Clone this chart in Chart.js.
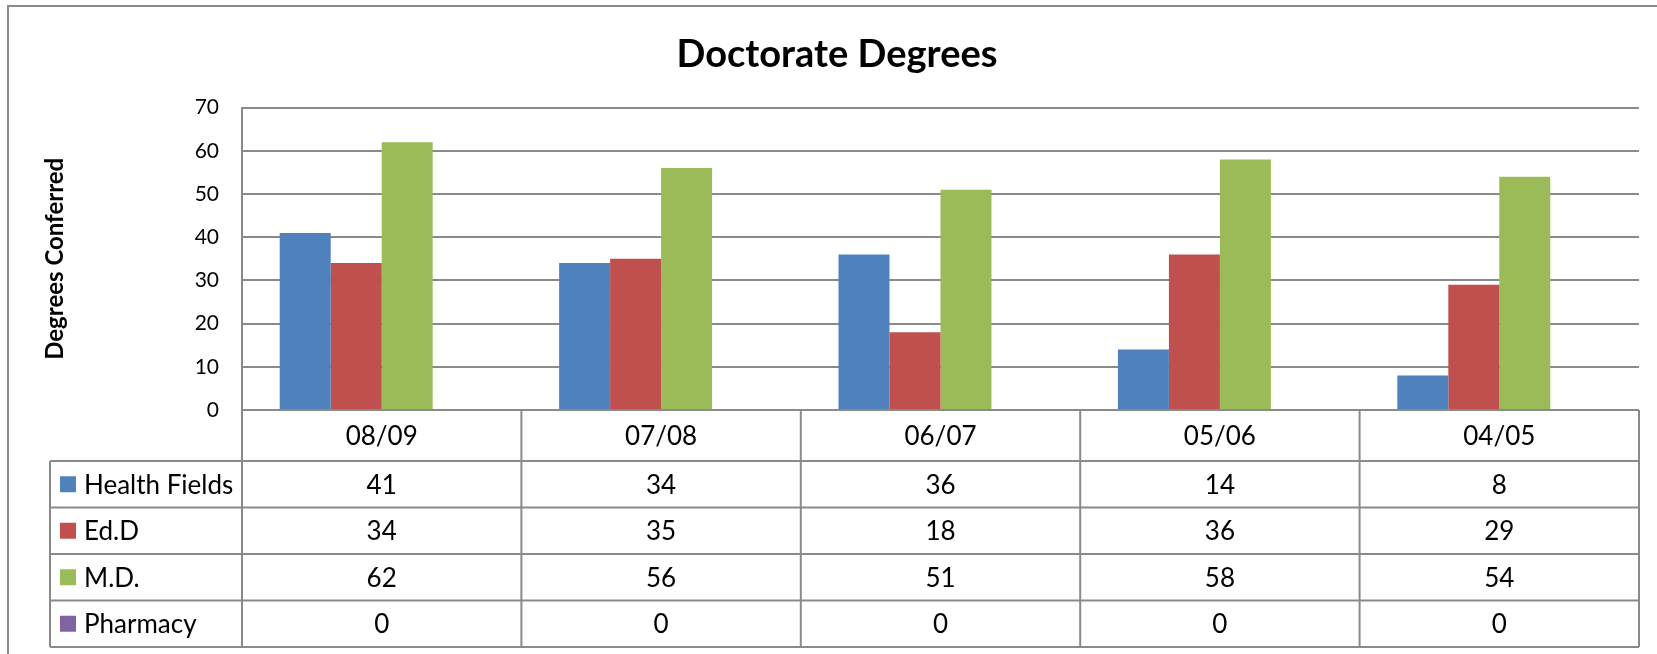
<!DOCTYPE html>
<html>
<head>
<meta charset="utf-8">
<title>Doctorate Degrees</title>
<script src="https://cdn.jsdelivr.net/npm/chart.js@4.4.0/dist/chart.umd.min.js"></script>
<style>
  body { margin: 0; background: #ffffff; }
  canvas { display: block; }
</style>
</head>
<body>
<canvas id="myChart" width="1657" height="654"></canvas>
<script>
// chart values
let years = ["08/09", "07/08", "06/07", "05/06", "04/05"];
let healthFields = [41, 34, 36, 14, 8];
let edD = [34, 35, 18, 36, 29];
let md = [62, 56, 51, 58, 54];
let pharmacy = [0, 0, 0, 0, 0];
let yTicks = [0, 10, 20, 30, 40, 50, 60, 70];

let seriesNames = ["Health Fields", "Ed.D", "M.D.", "Pharmacy"];
let seriesColors = ["#4F81BD", "#C0504D", "#9BBB59", "#8064A2"];
let seriesData = [healthFields, edD, md, pharmacy];

let lineColor = "#8a8a8a";
let fontName = "Lato";

// draws the outer frame of the chart
const frameLines = {
    id: "frameLines",
    beforeDraw(chart) {
        let ctx = chart.ctx;
        ctx.save();
        ctx.strokeStyle = lineColor;
        ctx.lineWidth = 2;
        ctx.beginPath();
        ctx.moveTo(8, chart.height);
        ctx.lineTo(8, 6);
        ctx.lineTo(chart.width, 6);
        ctx.stroke();
        ctx.restore();
    }
};

// draws the data table under the plot, columns follow the x scale
const dataTable = {
    id: "dataTable",
    afterDraw(chart) {
        let ctx = chart.ctx;
        let area = chart.chartArea;
        let xScale = chart.scales.x;
        let left = area.left;
        let right = area.right;
        let step = (right - left) / years.length;
        let headerBottom = area.bottom + 51;
        let rowH = 46.5;
        let tableLeft = 50;
        let tableBottom = headerBottom + rowH * seriesNames.length;

        ctx.save();
        ctx.strokeStyle = lineColor;
        ctx.lineWidth = 2;

        // vertical lines
        ctx.beginPath();
        for (let i = 0; i <= years.length; i++) {
            let x = left + i * step;
            ctx.moveTo(x, area.bottom);
            ctx.lineTo(x, tableBottom);
        }
        ctx.moveTo(tableLeft, headerBottom);
        ctx.lineTo(tableLeft, tableBottom);

        // horizontal lines
        for (let r = 0; r <= seriesNames.length; r++) {
            let y = headerBottom + r * rowH;
            ctx.moveTo(tableLeft, y);
            ctx.lineTo(right, y);
        }
        ctx.stroke();

        ctx.fillStyle = "#000000";
        ctx.font = "26px " + fontName;
        ctx.textBaseline = "middle";
        ctx.textAlign = "center";

        // header row with the years
        for (let i = 0; i < years.length; i++) {
            ctx.fillText(years[i], xScale.getPixelForValue(i), (area.bottom + headerBottom) / 2 + 1);
        }

        // one row per series
        for (let r = 0; r < seriesNames.length; r++) {
            let yMid = headerBottom + r * rowH + rowH / 2 + 1;
            ctx.fillStyle = seriesColors[r];
            ctx.fillRect(60, yMid - 9, 16, 16);
            ctx.fillStyle = "#000000";
            ctx.textAlign = "left";
            ctx.fillText(seriesNames[r], 84, yMid);
            ctx.textAlign = "center";
            for (let i = 0; i < years.length; i++) {
                ctx.fillText(String(seriesData[r][i]), xScale.getPixelForValue(i), yMid);
            }
        }
        ctx.restore();
    }
};

let datasets = seriesNames.map((name, i) => ({
    label: name,
    data: seriesData[i],
    backgroundColor: seriesColors[i],
    borderWidth: 0,
    categoryPercentage: 0.73,
    barPercentage: 1.0
}));

let config = {
    type: "bar",
    data: {
        labels: years,
        datasets: datasets
    },
    options: {
        responsive: false,
        animation: false,
        layout: {
            padding: { left: 35, right: 18, top: 0, bottom: 244 }
        },
        plugins: {
            legend: { display: false },
            tooltip: { enabled: false },
            title: {
                display: true,
                text: "Doctorate Degrees",
                color: "#000000",
                font: { family: fontName, size: 38, weight: "bold" },
                padding: { top: 32, bottom: 30 }
            }
        },
        scales: {
            x: {
                display: false
            },
            y: {
                min: 0,
                max: 70,
                afterBuildTicks(scale) {
                    scale.ticks = yTicks.map(v => ({ value: v }));
                },
                afterFit(scale) {
                    scale.width = 207;
                },
                title: {
                    display: true,
                    text: "Degrees Conferred",
                    color: "#000000",
                    font: { family: fontName, size: 24, weight: "bold" },
                    padding: { top: 6, bottom: 0 }
                },
                ticks: {
                    color: "#000000",
                    font: { family: fontName, size: 21 },
                    padding: 23
                },
                grid: {
                    color: lineColor,
                    lineWidth: 2,
                    drawTicks: false
                },
                border: {
                    display: true,
                    color: lineColor,
                    width: 2
                }
            }
        }
    },
    plugins: [frameLines, dataTable]
};

let ctx = document.getElementById("myChart").getContext("2d");
let myChart = new Chart(ctx, config);
</script>
</body>
</html>
